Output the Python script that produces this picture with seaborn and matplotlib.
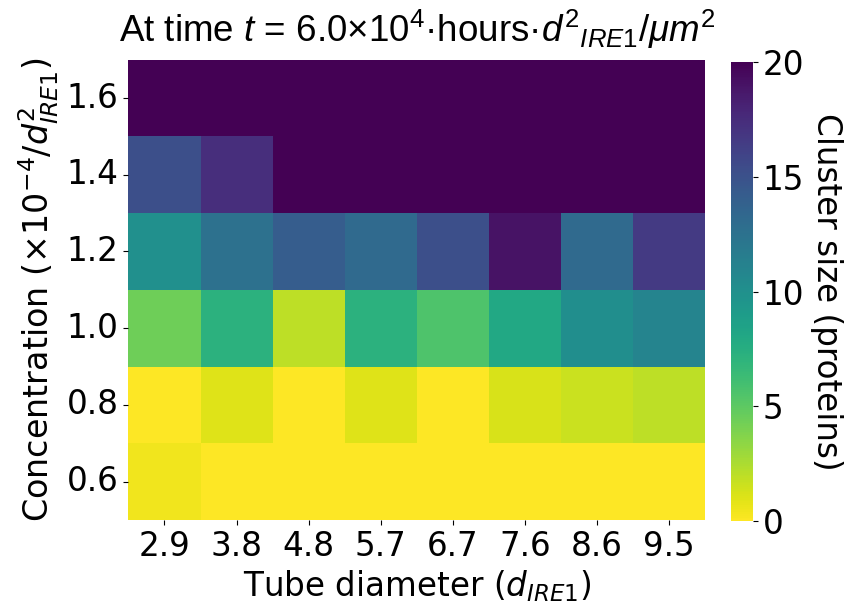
import matplotlib
matplotlib.use("Agg")
import matplotlib.pyplot as plt
import seaborn as sns
import numpy as np
import pandas as pd

diameters = ["2.9", "3.8", "4.8", "5.7", "6.7", "7.6", "8.6", "9.5"]
concentrations = ["1.6", "1.4", "1.2", "1.0", "0.8", "0.6"]

row_16 = [20, 20, 20, 20, 20, 20, 20, 20]
row_14 = [15.2, 17.4, 20, 20, 20, 20, 20, 20]
row_12 = [10.0, 12.6, 14.2, 13.2, 15.2, 19.0, 13.2, 16.6]
row_10 = [4.4, 7.2, 2.0, 7.2, 5.6, 8.0, 10.2, 11.0]
row_08 = [0.0, 1.0, 0.0, 1.0, 0.0, 1.2, 1.6, 2.0]
row_06 = [0.4, 0.0, 0.0, 0.0, 0.0, 0.0, 0.0, 0.0]

df = pd.DataFrame([row_16, row_14, row_12, row_10, row_08, row_06],
                  index=concentrations, columns=diameters)

plt.rcParams['mathtext.rm'] = 'Liberation Sans'
plt.rcParams['mathtext.it'] = 'Liberation Sans:italic'
plt.rcParams['mathtext.bf'] = 'Liberation Sans:bold'

fig = plt.figure(figsize=(8.56, 6.16), dpi=100)
ax = fig.add_axes([0.150, 0.156, 0.674, 0.747])
cax = fig.add_axes([0.854, 0.154, 0.0257, 0.745])

sns.heatmap(df, ax=ax, cbar_ax=cax, cmap="viridis_r", vmin=0, vmax=20)

ax.tick_params(axis='both', labelsize=23.5)
ax.set_yticklabels(ax.get_yticklabels(), rotation=0)
ax.set_xticklabels(ax.get_xticklabels(), rotation=0)
ax.set_xlabel(r"Tube diameter ($d_{IRE1}$)", fontsize=23.5)
ax.set_ylabel(r"Concentration ($\times 10^{-4}/d^2_{IRE1}$)", fontsize=24)

ax.set_title(r"At time $t$ = 6.0×10$^4$·hours·$d^2$$_{IRE1}$$/\mu m^2$",
             fontsize=26.5, family="Liberation Sans", math_fontfamily="custom", pad=13)

cax.tick_params(labelsize=23.5)
cax.set_yticks([0, 5, 10, 15, 20])
cax.set_ylabel("Cluster size (proteins)", fontsize=23.5, rotation=270, labelpad=28)

fig.savefig("out.png", dpi=100)
